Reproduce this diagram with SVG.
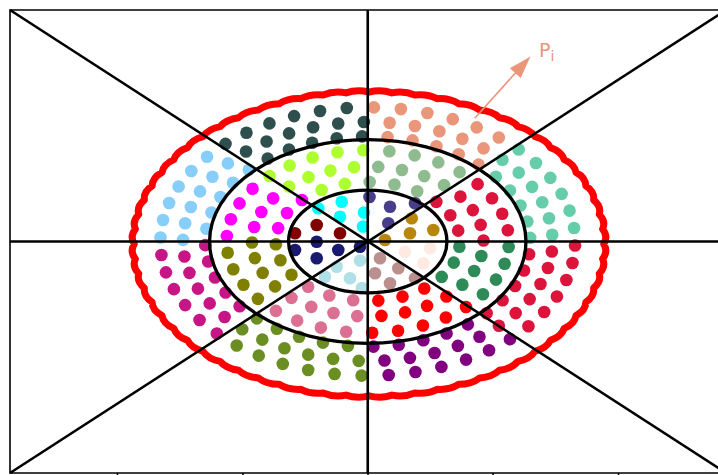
<svg xmlns="http://www.w3.org/2000/svg" width="718" height="475" viewBox="0 0 718 475">
<style>
.frame{stroke:#000;stroke-width:1.6;fill:none}
.axis{stroke:#000;stroke-width:2.6;fill:none}
.ring{stroke:#000;stroke-width:3.3;fill:none}
.wave{stroke:#ff0000;stroke-width:7;fill:none;stroke-linejoin:round}
.lbl{font-family:"DejaVu Sans","Liberation Sans",sans-serif;fill:#E9967A}
</style>
<defs>
<circle id="d" r="6.3" transform="scale(0.01261 0.019493)"/>
</defs>
<rect width="718" height="475" fill="#fff"/>
<g id="frame" class="frame">
<path d="M718 10 H10 V473 H718"/>
<path d="M117.5 473 V476 M243 473 V476 M368 473 V476 M493 473 V476 M618.5 473 V476"/>
</g>
<g id="dots" transform="translate(367.75 241.5) scale(79.3 51.3)">
<g id="outer-0" fill="#66CDAA">
<use href="#d" transform="rotate(-5.8) translate(2.615) rotate(5.8)"/>
<use href="#d" transform="rotate(-13.3) translate(2.615) rotate(13.3)"/>
<use href="#d" transform="rotate(-20.8) translate(2.615) rotate(20.8)"/>
<use href="#d" transform="rotate(-28.3) translate(2.615) rotate(28.3)"/>
<use href="#d" transform="rotate(-35.8) translate(2.615) rotate(35.8)"/>
<use href="#d" transform="rotate(-43.3) translate(2.615) rotate(43.3)"/>
<use href="#d" transform="rotate(-3.2) translate(2.33) rotate(3.2)"/>
<use href="#d" transform="rotate(-11.2) translate(2.33) rotate(11.2)"/>
<use href="#d" transform="rotate(-19.2) translate(2.33) rotate(19.2)"/>
<use href="#d" transform="rotate(-27.2) translate(2.33) rotate(27.2)"/>
<use href="#d" transform="rotate(-35.2) translate(2.33) rotate(35.2)"/>
<use href="#d" transform="rotate(-43.2) translate(2.33) rotate(43.2)"/>
<use href="#d" transform="rotate(-2) translate(2.05) rotate(2)"/>
<use href="#d" transform="rotate(-11) translate(2.05) rotate(11)"/>
<use href="#d" transform="rotate(-20) translate(2.05) rotate(20)"/>
<use href="#d" transform="rotate(-29) translate(2.05) rotate(29)"/>
<use href="#d" transform="rotate(-38) translate(2.05) rotate(38)"/>
</g>
<g id="outer-1" fill="#E9967A">
<use href="#d" transform="rotate(-50.8) translate(2.615) rotate(50.8)"/>
<use href="#d" transform="rotate(-58.3) translate(2.615) rotate(58.3)"/>
<use href="#d" transform="rotate(-65.8) translate(2.615) rotate(65.8)"/>
<use href="#d" transform="rotate(-73.3) translate(2.615) rotate(73.3)"/>
<use href="#d" transform="rotate(-80.8) translate(2.615) rotate(80.8)"/>
<use href="#d" transform="rotate(-88.3) translate(2.615) rotate(88.3)"/>
<use href="#d" transform="rotate(-51.2) translate(2.33) rotate(51.2)"/>
<use href="#d" transform="rotate(-59.2) translate(2.33) rotate(59.2)"/>
<use href="#d" transform="rotate(-67.2) translate(2.33) rotate(67.2)"/>
<use href="#d" transform="rotate(-75.2) translate(2.33) rotate(75.2)"/>
<use href="#d" transform="rotate(-83.2) translate(2.33) rotate(83.2)"/>
<use href="#d" transform="rotate(-47) translate(2.05) rotate(47)"/>
<use href="#d" transform="rotate(-56) translate(2.05) rotate(56)"/>
<use href="#d" transform="rotate(-65) translate(2.05) rotate(65)"/>
<use href="#d" transform="rotate(-74) translate(2.05) rotate(74)"/>
<use href="#d" transform="rotate(-83) translate(2.05) rotate(83)"/>
</g>
<g id="outer-2" fill="#2F4F4F">
<use href="#d" transform="rotate(-95.8) translate(2.615) rotate(95.8)"/>
<use href="#d" transform="rotate(-103.3) translate(2.615) rotate(103.3)"/>
<use href="#d" transform="rotate(-110.8) translate(2.615) rotate(110.8)"/>
<use href="#d" transform="rotate(-118.3) translate(2.615) rotate(118.3)"/>
<use href="#d" transform="rotate(-125.8) translate(2.615) rotate(125.8)"/>
<use href="#d" transform="rotate(-133.3) translate(2.615) rotate(133.3)"/>
<use href="#d" transform="rotate(-91.2) translate(2.33) rotate(91.2)"/>
<use href="#d" transform="rotate(-99.2) translate(2.33) rotate(99.2)"/>
<use href="#d" transform="rotate(-107.2) translate(2.33) rotate(107.2)"/>
<use href="#d" transform="rotate(-115.2) translate(2.33) rotate(115.2)"/>
<use href="#d" transform="rotate(-123.2) translate(2.33) rotate(123.2)"/>
<use href="#d" transform="rotate(-131.2) translate(2.33) rotate(131.2)"/>
<use href="#d" transform="rotate(-92) translate(2.05) rotate(92)"/>
<use href="#d" transform="rotate(-101) translate(2.05) rotate(101)"/>
<use href="#d" transform="rotate(-110) translate(2.05) rotate(110)"/>
<use href="#d" transform="rotate(-119) translate(2.05) rotate(119)"/>
<use href="#d" transform="rotate(-128) translate(2.05) rotate(128)"/>
</g>
<g id="outer-3" fill="#87CEFA">
<use href="#d" transform="rotate(-140.8) translate(2.615) rotate(140.8)"/>
<use href="#d" transform="rotate(-148.3) translate(2.615) rotate(148.3)"/>
<use href="#d" transform="rotate(-155.8) translate(2.615) rotate(155.8)"/>
<use href="#d" transform="rotate(-163.3) translate(2.615) rotate(163.3)"/>
<use href="#d" transform="rotate(-170.8) translate(2.615) rotate(170.8)"/>
<use href="#d" transform="rotate(-178.3) translate(2.615) rotate(178.3)"/>
<use href="#d" transform="rotate(-139.2) translate(2.33) rotate(139.2)"/>
<use href="#d" transform="rotate(-147.2) translate(2.33) rotate(147.2)"/>
<use href="#d" transform="rotate(-155.2) translate(2.33) rotate(155.2)"/>
<use href="#d" transform="rotate(-163.2) translate(2.33) rotate(163.2)"/>
<use href="#d" transform="rotate(-171.2) translate(2.33) rotate(171.2)"/>
<use href="#d" transform="rotate(-179.2) translate(2.33) rotate(179.2)"/>
<use href="#d" transform="rotate(-137) translate(2.05) rotate(137)"/>
<use href="#d" transform="rotate(-146) translate(2.05) rotate(146)"/>
<use href="#d" transform="rotate(-155) translate(2.05) rotate(155)"/>
<use href="#d" transform="rotate(-164) translate(2.05) rotate(164)"/>
<use href="#d" transform="rotate(-173) translate(2.05) rotate(173)"/>
</g>
<g id="outer-4" fill="#C71585">
<use href="#d" transform="rotate(-185.8) translate(2.615) rotate(185.8)"/>
<use href="#d" transform="rotate(-193.3) translate(2.615) rotate(193.3)"/>
<use href="#d" transform="rotate(-200.8) translate(2.615) rotate(200.8)"/>
<use href="#d" transform="rotate(-208.3) translate(2.615) rotate(208.3)"/>
<use href="#d" transform="rotate(-215.8) translate(2.615) rotate(215.8)"/>
<use href="#d" transform="rotate(-223.3) translate(2.615) rotate(223.3)"/>
<use href="#d" transform="rotate(-187.2) translate(2.33) rotate(187.2)"/>
<use href="#d" transform="rotate(-195.2) translate(2.33) rotate(195.2)"/>
<use href="#d" transform="rotate(-203.2) translate(2.33) rotate(203.2)"/>
<use href="#d" transform="rotate(-211.2) translate(2.33) rotate(211.2)"/>
<use href="#d" transform="rotate(-219.2) translate(2.33) rotate(219.2)"/>
<use href="#d" transform="rotate(-182) translate(2.05) rotate(182)"/>
<use href="#d" transform="rotate(-191) translate(2.05) rotate(191)"/>
<use href="#d" transform="rotate(-200) translate(2.05) rotate(200)"/>
<use href="#d" transform="rotate(-209) translate(2.05) rotate(209)"/>
<use href="#d" transform="rotate(-218) translate(2.05) rotate(218)"/>
</g>
<g id="outer-5" fill="#6B8E23">
<use href="#d" transform="rotate(-230.8) translate(2.615) rotate(230.8)"/>
<use href="#d" transform="rotate(-238.3) translate(2.615) rotate(238.3)"/>
<use href="#d" transform="rotate(-245.8) translate(2.615) rotate(245.8)"/>
<use href="#d" transform="rotate(-253.3) translate(2.615) rotate(253.3)"/>
<use href="#d" transform="rotate(-260.8) translate(2.615) rotate(260.8)"/>
<use href="#d" transform="rotate(-268.3) translate(2.615) rotate(268.3)"/>
<use href="#d" transform="rotate(-227.2) translate(2.33) rotate(227.2)"/>
<use href="#d" transform="rotate(-235.2) translate(2.33) rotate(235.2)"/>
<use href="#d" transform="rotate(-243.2) translate(2.33) rotate(243.2)"/>
<use href="#d" transform="rotate(-251.2) translate(2.33) rotate(251.2)"/>
<use href="#d" transform="rotate(-259.2) translate(2.33) rotate(259.2)"/>
<use href="#d" transform="rotate(-267.2) translate(2.33) rotate(267.2)"/>
<use href="#d" transform="rotate(-227) translate(2.05) rotate(227)"/>
<use href="#d" transform="rotate(-236) translate(2.05) rotate(236)"/>
<use href="#d" transform="rotate(-245) translate(2.05) rotate(245)"/>
<use href="#d" transform="rotate(-254) translate(2.05) rotate(254)"/>
<use href="#d" transform="rotate(-263) translate(2.05) rotate(263)"/>
</g>
<g id="outer-6" fill="#800080">
<use href="#d" transform="rotate(-275.8) translate(2.615) rotate(275.8)"/>
<use href="#d" transform="rotate(-283.3) translate(2.615) rotate(283.3)"/>
<use href="#d" transform="rotate(-290.8) translate(2.615) rotate(290.8)"/>
<use href="#d" transform="rotate(-298.3) translate(2.615) rotate(298.3)"/>
<use href="#d" transform="rotate(-305.8) translate(2.615) rotate(305.8)"/>
<use href="#d" transform="rotate(-313.3) translate(2.615) rotate(313.3)"/>
<use href="#d" transform="rotate(-275.2) translate(2.33) rotate(275.2)"/>
<use href="#d" transform="rotate(-283.2) translate(2.33) rotate(283.2)"/>
<use href="#d" transform="rotate(-291.2) translate(2.33) rotate(291.2)"/>
<use href="#d" transform="rotate(-299.2) translate(2.33) rotate(299.2)"/>
<use href="#d" transform="rotate(-307.2) translate(2.33) rotate(307.2)"/>
<use href="#d" transform="rotate(-272) translate(2.05) rotate(272)"/>
<use href="#d" transform="rotate(-281) translate(2.05) rotate(281)"/>
<use href="#d" transform="rotate(-290) translate(2.05) rotate(290)"/>
<use href="#d" transform="rotate(-299) translate(2.05) rotate(299)"/>
<use href="#d" transform="rotate(-308) translate(2.05) rotate(308)"/>
</g>
<g id="outer-7" fill="#DC143C">
<use href="#d" transform="rotate(-320.8) translate(2.615) rotate(320.8)"/>
<use href="#d" transform="rotate(-328.3) translate(2.615) rotate(328.3)"/>
<use href="#d" transform="rotate(-335.8) translate(2.615) rotate(335.8)"/>
<use href="#d" transform="rotate(-343.3) translate(2.615) rotate(343.3)"/>
<use href="#d" transform="rotate(-350.8) translate(2.615) rotate(350.8)"/>
<use href="#d" transform="rotate(-358.3) translate(2.615) rotate(358.3)"/>
<use href="#d" transform="rotate(-315.2) translate(2.33) rotate(315.2)"/>
<use href="#d" transform="rotate(-323.2) translate(2.33) rotate(323.2)"/>
<use href="#d" transform="rotate(-331.2) translate(2.33) rotate(331.2)"/>
<use href="#d" transform="rotate(-339.2) translate(2.33) rotate(339.2)"/>
<use href="#d" transform="rotate(-347.2) translate(2.33) rotate(347.2)"/>
<use href="#d" transform="rotate(-355.2) translate(2.33) rotate(355.2)"/>
<use href="#d" transform="rotate(-317) translate(2.05) rotate(317)"/>
<use href="#d" transform="rotate(-326) translate(2.05) rotate(326)"/>
<use href="#d" transform="rotate(-335) translate(2.05) rotate(335)"/>
<use href="#d" transform="rotate(-344) translate(2.05) rotate(344)"/>
<use href="#d" transform="rotate(-353) translate(2.05) rotate(353)"/>
</g>
<g id="middle-0" fill="#DC143C">
<use href="#d" transform="rotate(-7.1) translate(1.78) rotate(7.1)"/>
<use href="#d" transform="rotate(-17.7) translate(1.78) rotate(17.7)"/>
<use href="#d" transform="rotate(-28.3) translate(1.78) rotate(28.3)"/>
<use href="#d" transform="rotate(-38.9) translate(1.78) rotate(38.9)"/>
<use href="#d" transform="rotate(-0.8) translate(1.46) rotate(0.8)"/>
<use href="#d" transform="rotate(-12.8) translate(1.46) rotate(12.8)"/>
<use href="#d" transform="rotate(-24.8) translate(1.46) rotate(24.8)"/>
<use href="#d" transform="rotate(-36.8) translate(1.46) rotate(36.8)"/>
<use href="#d" transform="rotate(-10.5) translate(1.16) rotate(10.5)"/>
<use href="#d" transform="rotate(-26.2) translate(1.16) rotate(26.2)"/>
<use href="#d" transform="rotate(-41.8) translate(1.16) rotate(41.8)"/>
</g>
<g id="middle-1" fill="#8FBC8F">
<use href="#d" transform="rotate(-49.4) translate(1.78) rotate(49.4)"/>
<use href="#d" transform="rotate(-60) translate(1.78) rotate(60)"/>
<use href="#d" transform="rotate(-70.6) translate(1.78) rotate(70.6)"/>
<use href="#d" transform="rotate(-81.2) translate(1.78) rotate(81.2)"/>
<use href="#d" transform="rotate(-48.8) translate(1.46) rotate(48.8)"/>
<use href="#d" transform="rotate(-60.8) translate(1.46) rotate(60.8)"/>
<use href="#d" transform="rotate(-72.8) translate(1.46) rotate(72.8)"/>
<use href="#d" transform="rotate(-84.8) translate(1.46) rotate(84.8)"/>
<use href="#d" transform="rotate(-57.5) translate(1.16) rotate(57.5)"/>
<use href="#d" transform="rotate(-73.1) translate(1.16) rotate(73.1)"/>
<use href="#d" transform="rotate(-88.8) translate(1.16) rotate(88.8)"/>
</g>
<g id="middle-2" fill="#ADFF2F">
<use href="#d" transform="rotate(-91.8) translate(1.78) rotate(91.8)"/>
<use href="#d" transform="rotate(-102.4) translate(1.78) rotate(102.4)"/>
<use href="#d" transform="rotate(-113) translate(1.78) rotate(113)"/>
<use href="#d" transform="rotate(-123.6) translate(1.78) rotate(123.6)"/>
<use href="#d" transform="rotate(-134.1) translate(1.78) rotate(134.1)"/>
<use href="#d" transform="rotate(-96.8) translate(1.46) rotate(96.8)"/>
<use href="#d" transform="rotate(-108.8) translate(1.46) rotate(108.8)"/>
<use href="#d" transform="rotate(-120.8) translate(1.46) rotate(120.8)"/>
<use href="#d" transform="rotate(-132.8) translate(1.46) rotate(132.8)"/>
<use href="#d" transform="rotate(-104.4) translate(1.16) rotate(104.4)"/>
<use href="#d" transform="rotate(-120.1) translate(1.16) rotate(120.1)"/>
</g>
<g id="middle-3" fill="#FF00FF">
<use href="#d" transform="rotate(-144.7) translate(1.78) rotate(144.7)"/>
<use href="#d" transform="rotate(-155.3) translate(1.78) rotate(155.3)"/>
<use href="#d" transform="rotate(-165.9) translate(1.78) rotate(165.9)"/>
<use href="#d" transform="rotate(-176.5) translate(1.78) rotate(176.5)"/>
<use href="#d" transform="rotate(-144.8) translate(1.46) rotate(144.8)"/>
<use href="#d" transform="rotate(-156.8) translate(1.46) rotate(156.8)"/>
<use href="#d" transform="rotate(-168.8) translate(1.46) rotate(168.8)"/>
<use href="#d" transform="rotate(-135.7) translate(1.16) rotate(135.7)"/>
<use href="#d" transform="rotate(-151.4) translate(1.16) rotate(151.4)"/>
<use href="#d" transform="rotate(-167) translate(1.16) rotate(167)"/>
</g>
<g id="middle-4" fill="#808000">
<use href="#d" transform="rotate(-187.1) translate(1.78) rotate(187.1)"/>
<use href="#d" transform="rotate(-197.7) translate(1.78) rotate(197.7)"/>
<use href="#d" transform="rotate(-208.3) translate(1.78) rotate(208.3)"/>
<use href="#d" transform="rotate(-218.9) translate(1.78) rotate(218.9)"/>
<use href="#d" transform="rotate(-180.8) translate(1.46) rotate(180.8)"/>
<use href="#d" transform="rotate(-192.8) translate(1.46) rotate(192.8)"/>
<use href="#d" transform="rotate(-204.8) translate(1.46) rotate(204.8)"/>
<use href="#d" transform="rotate(-216.8) translate(1.46) rotate(216.8)"/>
<use href="#d" transform="rotate(-182.7) translate(1.16) rotate(182.7)"/>
<use href="#d" transform="rotate(-198.3) translate(1.16) rotate(198.3)"/>
<use href="#d" transform="rotate(-214) translate(1.16) rotate(214)"/>
</g>
<g id="middle-5" fill="#DB7093">
<use href="#d" transform="rotate(-229.4) translate(1.78) rotate(229.4)"/>
<use href="#d" transform="rotate(-240) translate(1.78) rotate(240)"/>
<use href="#d" transform="rotate(-250.6) translate(1.78) rotate(250.6)"/>
<use href="#d" transform="rotate(-261.2) translate(1.78) rotate(261.2)"/>
<use href="#d" transform="rotate(-228.8) translate(1.46) rotate(228.8)"/>
<use href="#d" transform="rotate(-240.8) translate(1.46) rotate(240.8)"/>
<use href="#d" transform="rotate(-252.8) translate(1.46) rotate(252.8)"/>
<use href="#d" transform="rotate(-264.8) translate(1.46) rotate(264.8)"/>
<use href="#d" transform="rotate(-229.6) translate(1.16) rotate(229.6)"/>
<use href="#d" transform="rotate(-245.3) translate(1.16) rotate(245.3)"/>
<use href="#d" transform="rotate(-260.9) translate(1.16) rotate(260.9)"/>
</g>
<g id="middle-6" fill="#FF0000">
<use href="#d" transform="rotate(-271.8) translate(1.78) rotate(271.8)"/>
<use href="#d" transform="rotate(-282.4) translate(1.78) rotate(282.4)"/>
<use href="#d" transform="rotate(-293) translate(1.78) rotate(293)"/>
<use href="#d" transform="rotate(-303.6) translate(1.78) rotate(303.6)"/>
<use href="#d" transform="rotate(-314.1) translate(1.78) rotate(314.1)"/>
<use href="#d" transform="rotate(-276.8) translate(1.46) rotate(276.8)"/>
<use href="#d" transform="rotate(-288.8) translate(1.46) rotate(288.8)"/>
<use href="#d" transform="rotate(-300.8) translate(1.46) rotate(300.8)"/>
<use href="#d" transform="rotate(-312.8) translate(1.46) rotate(312.8)"/>
<use href="#d" transform="rotate(-276.6) translate(1.16) rotate(276.6)"/>
<use href="#d" transform="rotate(-292.2) translate(1.16) rotate(292.2)"/>
<use href="#d" transform="rotate(-307.9) translate(1.16) rotate(307.9)"/>
</g>
<g id="middle-7" fill="#2E8B57">
<use href="#d" transform="rotate(-324.7) translate(1.78) rotate(324.7)"/>
<use href="#d" transform="rotate(-335.3) translate(1.78) rotate(335.3)"/>
<use href="#d" transform="rotate(-345.9) translate(1.78) rotate(345.9)"/>
<use href="#d" transform="rotate(-356.5) translate(1.78) rotate(356.5)"/>
<use href="#d" transform="rotate(-324.8) translate(1.46) rotate(324.8)"/>
<use href="#d" transform="rotate(-336.8) translate(1.46) rotate(336.8)"/>
<use href="#d" transform="rotate(-348.8) translate(1.46) rotate(348.8)"/>
<use href="#d" transform="rotate(-323.5) translate(1.16) rotate(323.5)"/>
<use href="#d" transform="rotate(-339.2) translate(1.16) rotate(339.2)"/>
<use href="#d" transform="rotate(-354.9) translate(1.16) rotate(354.9)"/>
</g>
</g>
<g id="inner" >
<g id="inner-0" fill="#B8860B"><circle cx="411.7" cy="218.3" r="6.3"/><circle cx="410" cy="233.3" r="6.3"/><circle cx="433.3" cy="230" r="6.3"/><circle cx="385" cy="240" r="6.3"/></g>
<g id="inner-1" fill="#483D8B"><circle cx="369.5" cy="197" r="6.3"/><circle cx="390" cy="206.7" r="6.3"/><circle cx="415" cy="203.3" r="6.3"/><circle cx="388.3" cy="223.3" r="6.3"/></g>
<g id="inner-2" fill="#00FFFF"><circle cx="341.7" cy="201.7" r="6.3"/><circle cx="340" cy="216.7" r="6.3"/><circle cx="318.3" cy="208.3" r="6.3"/><circle cx="364" cy="212.5" r="6.3"/><circle cx="363" cy="226.5" r="6.3"/></g>
<g id="inner-3" fill="#800000"><circle cx="316.7" cy="225" r="6.3"/><circle cx="340" cy="233.3" r="6.3"/><circle cx="295" cy="233.3" r="6.3"/></g>
<g id="inner-4" fill="#191970"><circle cx="316.7" cy="241.7" r="6.3"/><circle cx="295" cy="250" r="6.3"/><circle cx="316.7" cy="258.3" r="6.3"/><circle cx="338.3" cy="250" r="6.3"/><circle cx="360" cy="246.7" r="6.3"/></g>
<g id="inner-5" fill="#B0E0E6"><circle cx="336.7" cy="266.7" r="6.3"/><circle cx="360" cy="260.5" r="6.3"/><circle cx="325" cy="276.7" r="6.3"/><circle cx="350" cy="278.3" r="6.3"/><circle cx="362" cy="288" r="6.3"/></g>
<g id="inner-6" fill="#BC8F8F"><circle cx="380" cy="258.3" r="6.3"/><circle cx="398.3" cy="268.3" r="6.3"/><circle cx="375" cy="273.3" r="6.3"/><circle cx="390" cy="283.3" r="6.3"/><circle cx="415" cy="278.3" r="6.3"/></g>
<g id="inner-7" fill="#FFEAE2"><circle cx="405" cy="251.7" r="6.3"/><circle cx="430" cy="248.3" r="6.3"/><circle cx="423.3" cy="263.3" r="6.3"/></g>
</g>
<g id="rings" class="ring">
<ellipse cx="367.75" cy="241.5" rx="79.2" ry="51.3"/>
<ellipse cx="367.75" cy="241.5" rx="158.2" ry="101.8"/>
</g>
<g id="boundary" transform="translate(369 244) scale(79.3 51.3)">
<path class="wave" vector-effect="non-scaling-stroke" d="M2.96 0 A.346 .346 0 0 0 2.94575 -.29013 A.346 .346 0 0 0 2.90312 -.57747 A.346 .346 0 0 0 2.83254 -.85924 A.346 .346 0 0 0 2.73468 -1.13274 A.346 .346 0 0 0 2.61049 -1.39534 A.346 .346 0 0 0 2.46115 -1.64449 A.346 .346 0 0 0 2.28811 -1.8778 A.346 .346 0 0 0 2.09304 -2.09304 A.346 .346 0 0 0 1.8778 -2.28811 A.346 .346 0 0 0 1.64449 -2.46115 A.346 .346 0 0 0 1.39534 -2.61049 A.346 .346 0 0 0 1.13274 -2.73468 A.346 .346 0 0 0 .85924 -2.83254 A.346 .346 0 0 0 .57747 -2.90312 A.346 .346 0 0 0 .29013 -2.94575 A.346 .346 0 0 0 0 -2.96 A.346 .346 0 0 0 -.29013 -2.94575 A.346 .346 0 0 0 -.57747 -2.90312 A.346 .346 0 0 0 -.85924 -2.83254 A.346 .346 0 0 0 -1.13274 -2.73468 A.346 .346 0 0 0 -1.39534 -2.61049 A.346 .346 0 0 0 -1.64449 -2.46115 A.346 .346 0 0 0 -1.8778 -2.28811 A.346 .346 0 0 0 -2.09304 -2.09304 A.346 .346 0 0 0 -2.28811 -1.8778 A.346 .346 0 0 0 -2.46115 -1.64449 A.346 .346 0 0 0 -2.61049 -1.39534 A.346 .346 0 0 0 -2.73468 -1.13274 A.346 .346 0 0 0 -2.83254 -.85924 A.346 .346 0 0 0 -2.90312 -.57747 A.346 .346 0 0 0 -2.94575 -.29013 A.346 .346 0 0 0 -2.96 0 A.346 .346 0 0 0 -2.94575 .29013 A.346 .346 0 0 0 -2.90312 .57747 A.346 .346 0 0 0 -2.83254 .85924 A.346 .346 0 0 0 -2.73468 1.13274 A.346 .346 0 0 0 -2.61049 1.39534 A.346 .346 0 0 0 -2.46115 1.64449 A.346 .346 0 0 0 -2.28811 1.8778 A.346 .346 0 0 0 -2.09304 2.09304 A.346 .346 0 0 0 -1.8778 2.28811 A.346 .346 0 0 0 -1.64449 2.46115 A.346 .346 0 0 0 -1.39534 2.61049 A.346 .346 0 0 0 -1.13274 2.73468 A.346 .346 0 0 0 -.85924 2.83254 A.346 .346 0 0 0 -.57747 2.90312 A.346 .346 0 0 0 -.29013 2.94575 A.346 .346 0 0 0 0 2.96 A.346 .346 0 0 0 .29013 2.94575 A.346 .346 0 0 0 .57747 2.90312 A.346 .346 0 0 0 .85924 2.83254 A.346 .346 0 0 0 1.13274 2.73468 A.346 .346 0 0 0 1.39534 2.61049 A.346 .346 0 0 0 1.64449 2.46115 A.346 .346 0 0 0 1.8778 2.28811 A.346 .346 0 0 0 2.09304 2.09304 A.346 .346 0 0 0 2.28811 1.8778 A.346 .346 0 0 0 2.46115 1.64449 A.346 .346 0 0 0 2.61049 1.39534 A.346 .346 0 0 0 2.73468 1.13274 A.346 .346 0 0 0 2.83254 .85924 A.346 .346 0 0 0 2.90312 .57747 A.346 .346 0 0 0 2.94575 .29013 A.346 .346 0 0 0 2.96 0 Z"/>
</g>
<g id="connectors" class="axis">
<path d="M10 241.5 H718"/>
<path d="M367.75 10 V473"/>
<path d="M10 10 L726 473"/>
<path d="M10 473 L726 10"/>
</g>
<g id="label-Pi">
<path d="M474.7 118.3 L516 72.3" stroke="#E9967A" stroke-width="1.6" fill="none"/>
<polygon points="530.5,56.5 509.9,68.2 520.7,78" fill="#E9967A"/>
<text class="lbl" x="539" y="57" font-size="19">P<tspan font-size="14" dy="4.3">i</tspan></text>
</g>
</svg>
